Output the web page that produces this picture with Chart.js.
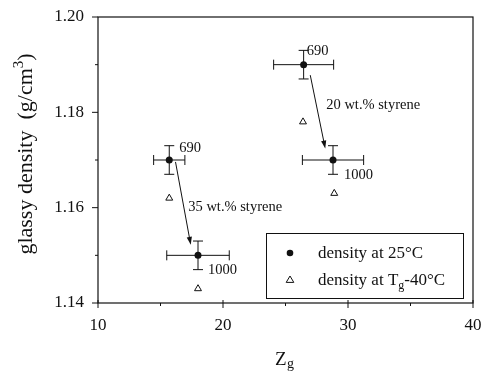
<!DOCTYPE html>
<html>
<head>
<meta charset="utf-8">
<script src="https://cdn.jsdelivr.net/npm/chart.js@4.4.1/dist/chart.umd.min.js"></script>
<style>
  html, body { margin: 0; padding: 0; background: #fff; }
  #wrap { width: 482px; height: 373px; position: relative; }
</style>
</head>
<body>
<div id="wrap"><canvas id="chart"></canvas></div>
<script>
// Glassy density vs Zg: two styrene contents, Mn 690 and 1000

const SERIF = "'Liberation Serif', 'Times New Roman', serif";

// density at 25 °C, with error bars
const zg25 = [15.7, 18.0, 26.45, 28.8];
const rho25 = [1.170, 1.150, 1.190, 1.170];
const zgErr = [1.25, 2.5, 2.4, 2.45];
const rhoErr = [0.003, 0.003, 0.003, 0.003];
const mnLabels = ['690', '1000', '690', '1000'];

// density at Tg - 40 °C
const zgTg = [15.7, 18.0, 26.4, 28.9];
const rhoTg = [1.162, 1.143, 1.178, 1.163];

// styrene arrows: [z start, rho start, z end, rho end]
const arrowLines = [
  [16.2, 1.1696, 17.42, 1.1522],
  [26.98, 1.1878, 28.18, 1.1724],
];
const arrowTexts = ['35 wt.% styrene', '20 wt.% styrene'];
const arrowTextAt = [[17.22, 1.1602], [28.26, 1.1814]];

const xTicks = [10, 20, 30, 40];
const xMinor = [15, 25, 35];
const yTicks = [1.14, 1.16, 1.18, 1.20];
const yMinor = [1.15, 1.17, 1.19];

// pixel offsets of the Mn labels from their points
const mnOffsets = [[10, -12], [10, 15], [3, -13], [11, 15]];

function pts(xs, ys) {
  return xs.map((x, i) => ({ x, y: ys[i] }));
}

const errorBars = {
  id: 'errorBars',
  beforeDatasetsDraw(chart) {
    const { ctx, scales: { x, y } } = chart;
    ctx.save();
    ctx.strokeStyle = '#111';
    ctx.lineWidth = 1;
    zg25.forEach((z, i) => {
      const px = x.getPixelForValue(z);
      const py = y.getPixelForValue(rho25[i]);
      const x0 = x.getPixelForValue(z - zgErr[i]);
      const x1 = x.getPixelForValue(z + zgErr[i]);
      const y0 = y.getPixelForValue(rho25[i] + rhoErr[i]);
      const y1 = y.getPixelForValue(rho25[i] - rhoErr[i]);
      ctx.beginPath();
      ctx.moveTo(x0, py); ctx.lineTo(x1, py);
      ctx.moveTo(x0, py - 5); ctx.lineTo(x0, py + 5);
      ctx.moveTo(x1, py - 5); ctx.lineTo(x1, py + 5);
      ctx.moveTo(px, y0); ctx.lineTo(px, y1);
      ctx.moveTo(px - 5, y0); ctx.lineTo(px + 5, y0);
      ctx.moveTo(px - 5, y1); ctx.lineTo(px + 5, y1);
      ctx.stroke();
    });
    ctx.restore();
  },
};

const decorations = {
  id: 'decorations',
  afterDraw(chart) {
    const { ctx, chartArea: a, scales: { x, y } } = chart;
    ctx.save();
    ctx.strokeStyle = '#111';
    ctx.fillStyle = '#111';

    // frame and tick marks
    ctx.lineWidth = 1.2;
    ctx.strokeRect(a.left, a.top, a.right - a.left, a.bottom - a.top);
    ctx.lineWidth = 1;
    ctx.beginPath();
    xTicks.forEach(v => { const p = x.getPixelForValue(v); ctx.moveTo(p, a.bottom - 3); ctx.lineTo(p, a.bottom + 5); });
    xMinor.forEach(v => { const p = x.getPixelForValue(v); ctx.moveTo(p, a.bottom); ctx.lineTo(p, a.bottom + 3); });
    yTicks.forEach(v => { const p = y.getPixelForValue(v); ctx.moveTo(a.left - 6, p); ctx.lineTo(a.left, p); });
    yMinor.forEach(v => { const p = y.getPixelForValue(v); ctx.moveTo(a.left - 3, p); ctx.lineTo(a.left, p); });
    ctx.stroke();

    // Mn labels
    ctx.font = `14.5px ${SERIF}`;
    ctx.textBaseline = 'middle';
    ctx.textAlign = 'left';
    mnLabels.forEach((t, i) => {
      const px = x.getPixelForValue(zg25[i]);
      const py = y.getPixelForValue(rho25[i]);
      ctx.fillText(t, px + mnOffsets[i][0], py + mnOffsets[i][1]);
    });

    // arrows with text
    arrowLines.forEach(([za, ra, zb, rb], i) => {
      const xa = x.getPixelForValue(za), ya = y.getPixelForValue(ra);
      const xb = x.getPixelForValue(zb), yb = y.getPixelForValue(rb);
      const ang = Math.atan2(yb - ya, xb - xa);
      ctx.beginPath();
      ctx.moveTo(xa, ya);
      ctx.lineTo(xb - 6 * Math.cos(ang), yb - 6 * Math.sin(ang));
      ctx.stroke();
      ctx.beginPath();
      ctx.moveTo(xb, yb);
      ctx.lineTo(xb - 8 * Math.cos(ang) + 2.6 * Math.sin(ang), yb - 8 * Math.sin(ang) - 2.6 * Math.cos(ang));
      ctx.lineTo(xb - 8 * Math.cos(ang) - 2.6 * Math.sin(ang), yb - 8 * Math.sin(ang) + 2.6 * Math.cos(ang));
      ctx.closePath();
      ctx.fill();
      const [tz, tr] = arrowTextAt[i];
      ctx.fillText(arrowTexts[i], x.getPixelForValue(tz), y.getPixelForValue(tr));
    });

    // legend box
    const lx = a.right - 207, ly = a.bottom - 70, lw = 197, lh = 65;
    ctx.lineWidth = 1;
    ctx.strokeRect(lx + 0.5, ly + 0.5, lw, lh);
    ctx.beginPath();
    ctx.arc(lx + 24, ly + 20, 3.3, 0, Math.PI * 2);
    ctx.fill();
    drawTriangle(ctx, lx + 24, ly + 47, 4);
    ctx.font = `17px ${SERIF}`;
    ctx.textBaseline = 'alphabetic';
    ctx.fillText('density at 25°C', lx + 52, ly + 25);
    let tx = lx + 52;
    const t1 = 'density at T';
    ctx.fillText(t1, tx, ly + 52);
    tx += ctx.measureText(t1).width;
    ctx.font = `12px ${SERIF}`;
    ctx.fillText('g', tx, ly + 56);
    tx += ctx.measureText('g').width;
    ctx.font = `17px ${SERIF}`;
    ctx.fillText('-40°C', tx, ly + 52);

    // y axis title
    ctx.save();
    ctx.translate(32, 154);
    ctx.rotate(-Math.PI / 2);
    const s1 = 'glassy density  (g/cm', s3 = ')';
    ctx.font = `22px ${SERIF}`;
    const w1 = ctx.measureText(s1).width, w3 = ctx.measureText(s3).width;
    ctx.font = `15px ${SERIF}`;
    const w2 = ctx.measureText('3').width;
    let ox = -(w1 + w2 + w3) / 2;
    ctx.font = `22px ${SERIF}`;
    ctx.fillText(s1, ox, 0);
    ox += w1;
    ctx.font = `15px ${SERIF}`;
    ctx.fillText('3', ox, -9);
    ox += w2;
    ctx.font = `22px ${SERIF}`;
    ctx.fillText(s3, ox, 0);
    ctx.restore();

    // x axis title
    ctx.font = `19px ${SERIF}`;
    ctx.fillText('Z', 275, 365);
    ctx.font = `14px ${SERIF}`;
    ctx.fillText('g', 287, 368);

    ctx.restore();
  },
};

function drawTriangle(ctx, cx, cy, r) {
  ctx.save();
  ctx.fillStyle = '#fff';
  ctx.lineWidth = 1;
  ctx.beginPath();
  ctx.moveTo(cx, cy - r);
  ctx.lineTo(cx + r * 0.95, cy + r * 0.6);
  ctx.lineTo(cx - r * 0.95, cy + r * 0.6);
  ctx.closePath();
  ctx.fill();
  ctx.stroke();
  ctx.restore();
}

new Chart(document.getElementById('chart'), {
  type: 'scatter',
  data: {
    datasets: [
      {
        label: 'density at 25°C',
        data: pts(zg25, rho25),
        pointStyle: 'circle',
        pointRadius: 3.5,
        backgroundColor: '#111',
        borderColor: '#111',
        borderWidth: 0,
      },
      {
        label: 'density at Tg-40°C',
        data: pts(zgTg, rhoTg),
        pointStyle: 'triangle',
        pointRadius: 4,
        backgroundColor: '#fff',
        borderColor: '#111',
        borderWidth: 1,
      },
    ],
  },
  options: {
    responsive: true,
    maintainAspectRatio: false,
    animation: false,
    events: [],
    layout: { padding: { top: 17, right: 9, left: 0, bottom: 0 } },
    plugins: { legend: { display: false }, tooltip: { enabled: false } },
    scales: {
      x: {
        type: 'linear',
        min: 10, max: 40,
        grid: { display: false, drawTicks: false },
        border: { display: false },
        afterBuildTicks: s => { s.ticks = xTicks.map(v => ({ value: v })); },
        afterFit: s => { s.height = 70; s.paddingLeft = 0; s.paddingRight = 0; },
        ticks: {
          color: '#111',
          padding: 12,
          font: { family: SERIF, size: 17 },
          callback: v => String(v),
        },
      },
      y: {
        type: 'linear',
        min: 1.14, max: 1.20,
        grid: { display: false, drawTicks: false },
        border: { display: false },
        afterBuildTicks: s => { s.ticks = yTicks.map(v => ({ value: v })); },
        afterFit: s => { s.width = 98; s.paddingTop = 0; s.paddingBottom = 0; },
        ticks: {
          color: '#111',
          padding: 14,
          font: { family: SERIF, size: 17 },
          callback: v => v.toFixed(2),
        },
      },
    },
  },
  plugins: [errorBars, decorations],
});
</script>
</body>
</html>
